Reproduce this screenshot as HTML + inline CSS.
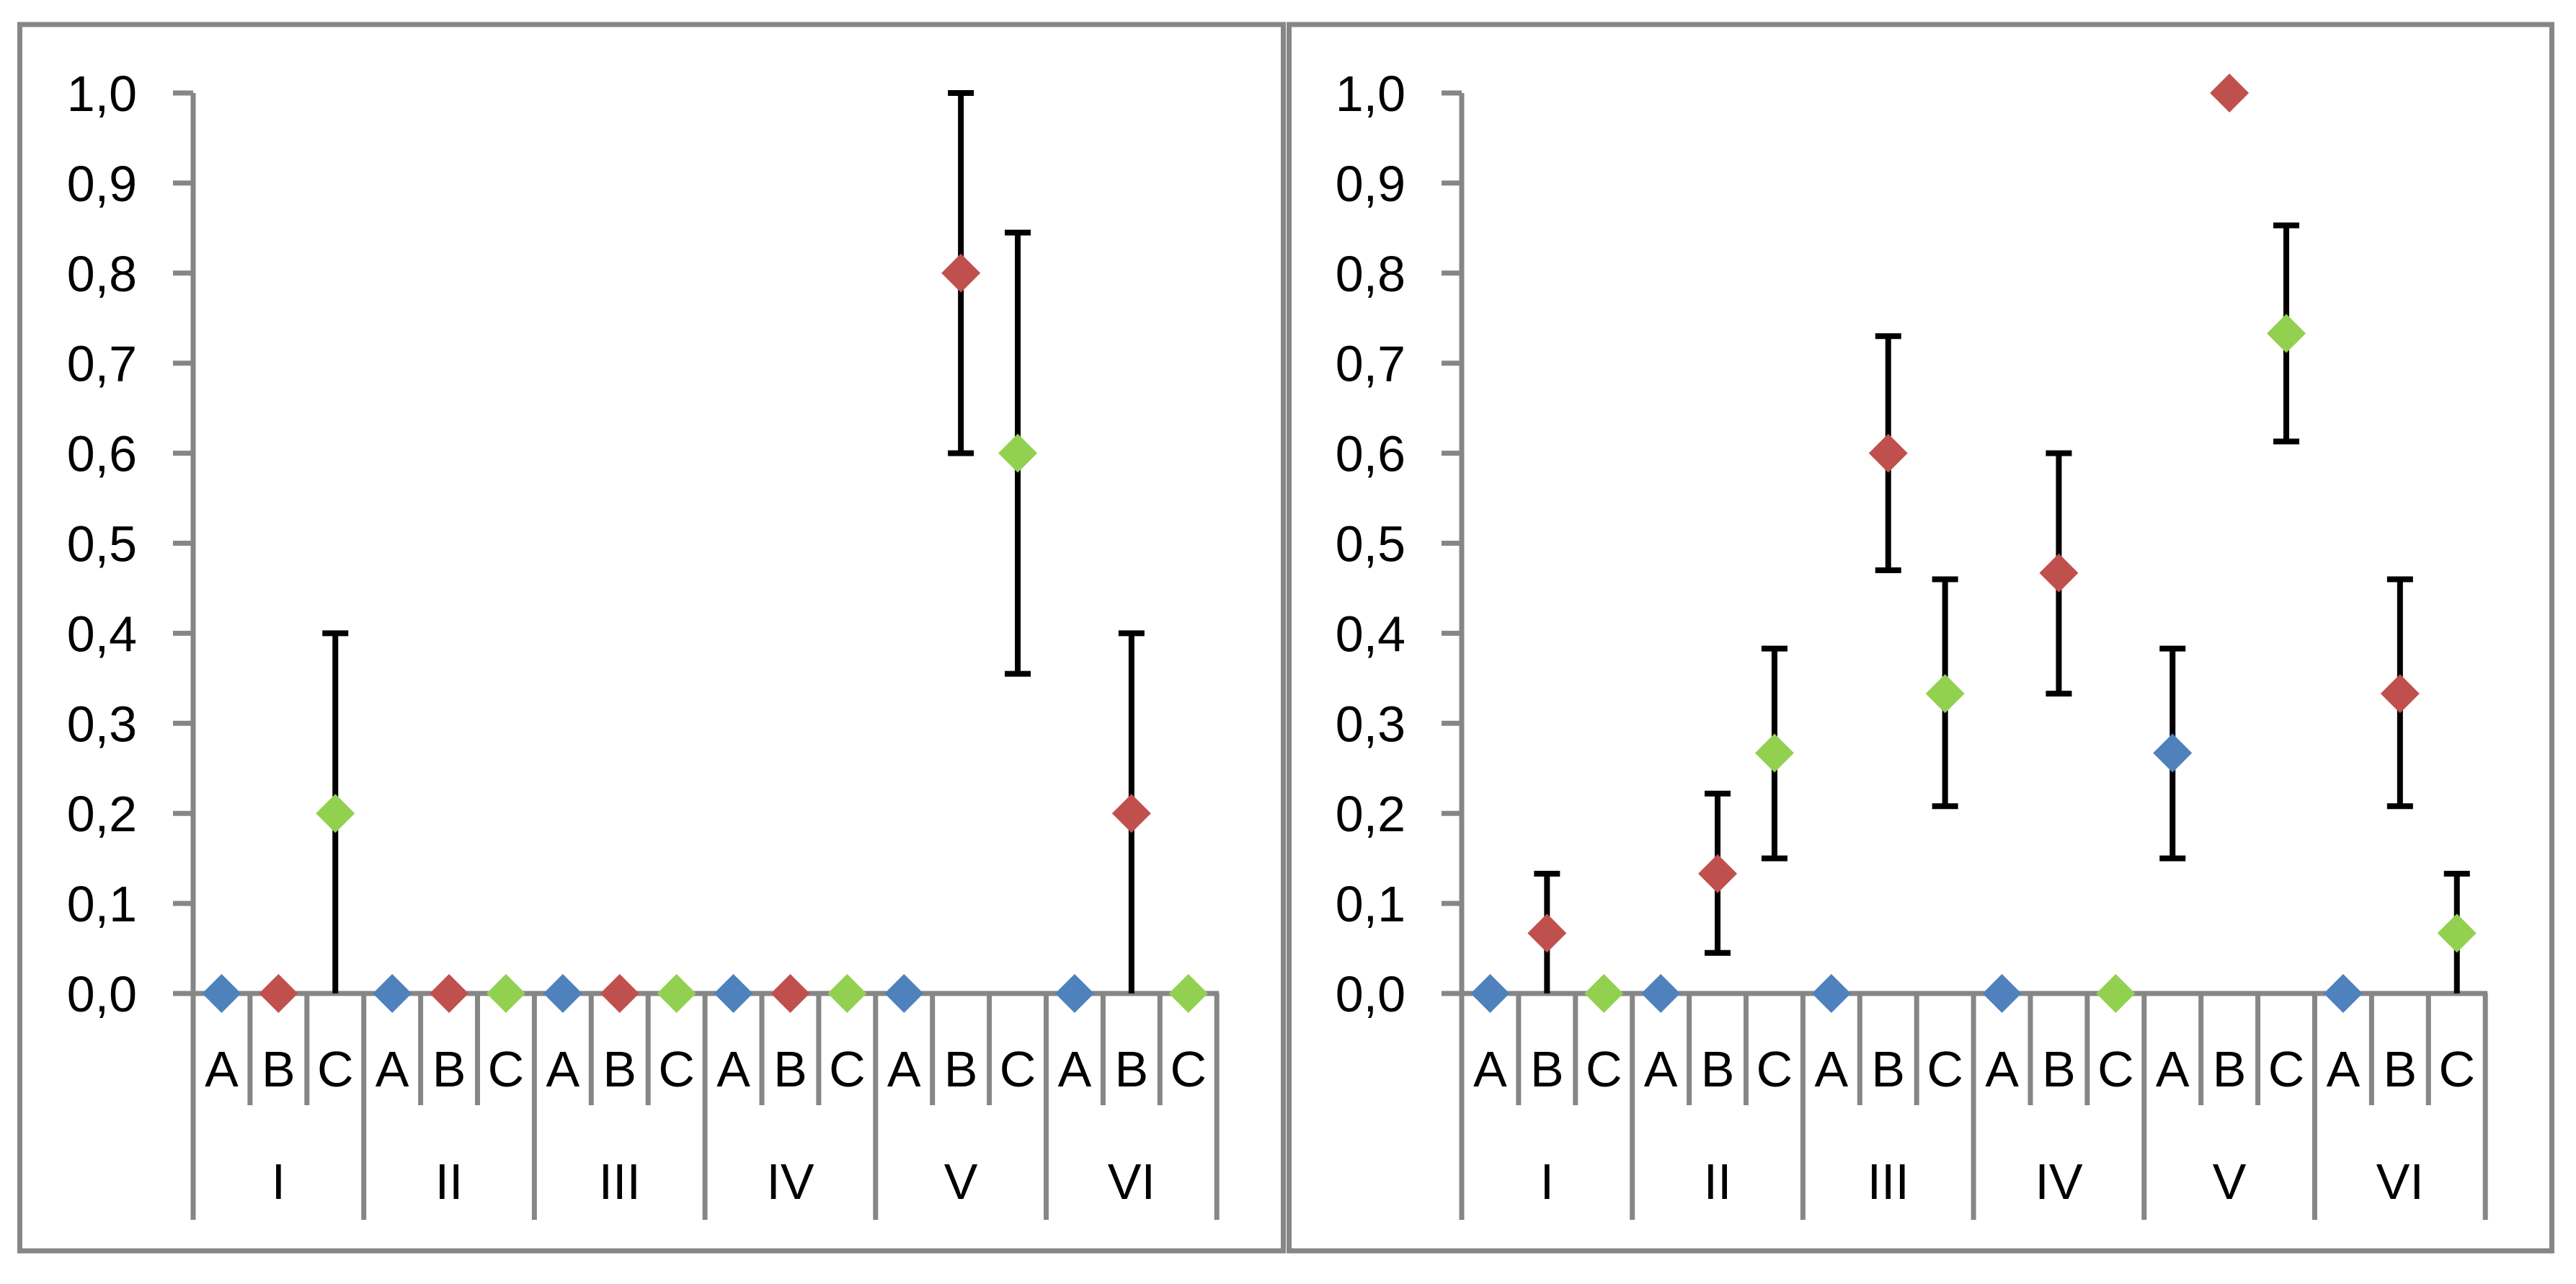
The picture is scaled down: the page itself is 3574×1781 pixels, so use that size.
<!DOCTYPE html>
<html><head><meta charset="utf-8"><style>
html,body{margin:0;padding:0;background:#fff;}
svg{display:block;}
text{font-family:"Liberation Sans",sans-serif;fill:#000;}
</style></head><body>
<svg id="chart" width="3574" height="1781" viewBox="0 0 3574 1781" xmlns="http://www.w3.org/2000/svg">
<rect x="27.5" y="34" width="1753" height="1701" fill="none" stroke="#868686" stroke-width="7"/>
<rect x="1788.5" y="34" width="1752" height="1701" fill="none" stroke="#868686" stroke-width="7"/>
<g id="left"></g>
<g id="right"></g>
</svg>
<script>
const groups = ["I","II","III","IV","V","VI"];
const subs = ["A","B","C"];
const yTicks = ["0,0","0,1","0,2","0,3","0,4","0,5","0,6","0,7","0,8","0,9","1,0"];
const colors = {A:"#4F81BD",B:"#C0504D",C:"#92D050"};
// left chart: values per category (A,B,C per group)
const leftValues = [0,0,0.2, 0,0,0, 0,0,0, 0,0,0, 0,0.8,0.6, 0,0.2,0];
const leftLow    = [null,null,0, null,null,null, null,null,null, null,null,null, null,0.6,0.355, null,0,null];
const leftHigh   = [null,null,0.4, null,null,null, null,null,null, null,null,null, null,1.0,0.845, null,0.4,null];
const leftShown  = [1,1,1, 1,1,1, 1,1,1, 1,1,1, 1,1,1, 1,1,1];
// right chart
const rightValues = [0,0.067,0, 0,0.133,0.267, 0,0.6,0.333, 0,0.467,0, 0.267,1.0,0.733, 0,0.333,0.067];
const rightLow    = [null,0,null, null,0.045,0.15, null,0.47,0.208, null,0.333,null, 0.15,null,0.613, null,0.208,0];
const rightHigh   = [null,0.133,null, null,0.222,0.383, null,0.73,0.46, null,0.6,null, 0.383,null,0.853, null,0.46,0.133];
const rightShown  = [1,1,1, 1,1,1, 1,1,1, 1,1,1, 1,1,1, 1,1,1];

const NS="http://www.w3.org/2000/svg";
function mk(tag, attrs, parent){const e=document.createElementNS(NS,tag);for(const k in attrs)e.setAttribute(k,attrs[k]);parent.appendChild(e);return e;}

function drawChart(g, axisX, values, low, high, shown, prefix){
  const y0=1378, yTop=129, catW=78.9, nCat=groups.length*subs.length;
  const yS=v=>y0-(v)*(y0-yTop);
  const xS=i=>axisX+(i+0.5)*catW;
  const xEnd=axisX+nCat*catW;
  // y axis
  let l=mk("line",{x1:axisX,y1:yTop,x2:axisX,y2:y0,stroke:"#868686","stroke-width":7},g);
  
  
  yTicks.forEach((t,i)=>{
    const v=i/10, y=yS(v);
    const tk=mk("line",{x1:axisX-28,y1:y,x2:axisX,y2:y,stroke:"#868686","stroke-width":7},g);
    
    
    const tx=mk("text",{x:axisX-78,y:y+25,"text-anchor":"end","font-size":70},g);
    tx.textContent=t;
    
    
  });
  // x axis
  l=mk("line",{x1:axisX-28,y1:y0,x2:xEnd+3,y2:y0,stroke:"#868686","stroke-width":7},g);
  
  
  for(let i=0;i<=nCat;i++){
    const x=axisX+i*catW, major=(i%3===0);
    const s=mk("line",{x1:x,y1:y0,x2:x,y2:major?1692:1533,stroke:"#868686","stroke-width":7},g);
    
    
  }
  for(let i=0;i<nCat;i++){
    const t=mk("text",{x:xS(i),y:1507,"text-anchor":"middle","font-size":70},g);
    t.textContent=subs[i%3];
    
    
  }
  groups.forEach((gr,j)=>{
    const t=mk("text",{x:axisX+(j*3+1.5)*catW,y:1663,"text-anchor":"middle","font-size":70},g);
    t.textContent=gr;
    
    
  });
  // error bars
  for(let i=0;i<nCat;i++){
    if(low[i]===null||high[i]===null) continue;
    const x=xS(i);
    const b=mk("g",{},g);
    
    
    mk("line",{x1:x,y1:yS(high[i]),x2:x,y2:yS(low[i]),stroke:"#000","stroke-width":8},b);
    mk("line",{x1:x-18,y1:yS(high[i]),x2:x+18,y2:yS(high[i]),stroke:"#000","stroke-width":8},b);
    if(low[i]>0) mk("line",{x1:x-18,y1:yS(low[i]),x2:x+18,y2:yS(low[i]),stroke:"#000","stroke-width":8},b);
  }
  // markers
  for(let i=0;i<nCat;i++){
    if(!shown[i]) continue;
    const x=xS(i), y=yS(values[i]), r=27;
    const p=mk("polygon",{points:`${x},${y-r} ${x+r},${y} ${x},${y+r} ${x-r},${y}`,fill:colors[subs[i%3]]},g);
    
    
  }
}
drawChart(document.getElementById("left"),268,leftValues,leftLow,leftHigh,leftShown,"left");
drawChart(document.getElementById("right"),2028,rightValues,rightLow,rightHigh,rightShown,"right");
</script>
</body></html>
